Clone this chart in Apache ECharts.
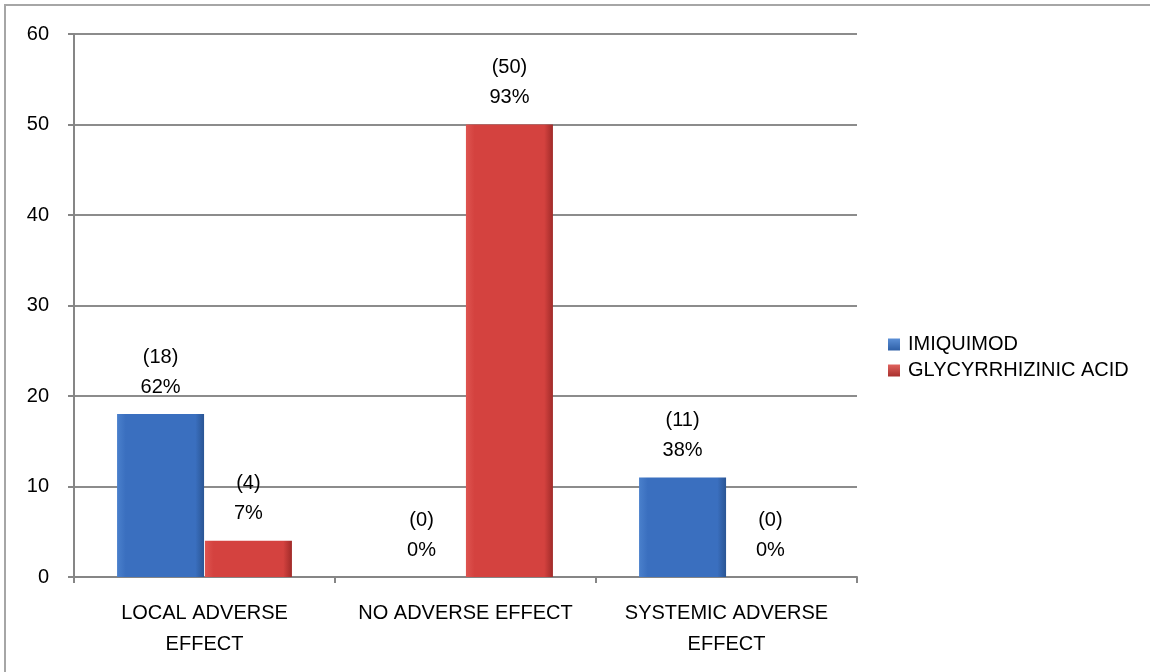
<!DOCTYPE html>
<html>
<head>
<meta charset="utf-8">
<script src="https://cdn.jsdelivr.net/npm/echarts@6/dist/echarts.min.js"></script>
<style>
  html, body { margin: 0; padding: 0; background: #fff; }
  #chart { width: 1150px; height: 672px; }
</style>
</head>
<body>
<div id="chart"></div>
<script>
// Adverse effects by treatment group
const categories = ['LOCAL ADVERSE\nEFFECT', 'NO ADVERSE EFFECT', 'SYSTEMIC ADVERSE\nEFFECT'];
const seriesNames = ['IMIQUIMOD', 'GLYCYRRHIZINIC ACID'];
const imiquimodCounts = [18, 0, 11];
const imiquimodPercents = [62, 0, 38];
const glycyrrhizinicCounts = [4, 50, 0];
const glycyrrhizinicPercents = [7, 93, 0];
const yTicks = [0, 10, 20, 30, 40, 50, 60];

const FONT = 'Liberation Sans';
const FONT_SIZE = 20;

function bevel(left, mid, right) {
  return new echarts.graphic.LinearGradient(0, 0, 1, 0, [
    { offset: 0, color: left },
    { offset: 0.1, color: mid },
    { offset: 0.9, color: mid },
    { offset: 1, color: right }
  ]);
}
function legendIcon(c1, c2) {
  return new echarts.graphic.LinearGradient(0, 0, 0, 1, [
    { offset: 0, color: c1 },
    { offset: 1, color: c2 }
  ]);
}

const blue = bevel('#4a80cc', '#3a6fbf', '#2a5594');
const red = bevel('#de5450', '#d4423f', '#a02b29');

function makeLabel(percents) {
  return {
    show: true,
    position: 'top',
    distance: 12,
    color: '#000',
    fontFamily: FONT,
    fontSize: FONT_SIZE,
    lineHeight: 30,
    formatter: p => '(' + p.value + ')\n' + percents[p.dataIndex] + '%'
  };
}

const chart = echarts.init(document.getElementById('chart'), null, { renderer: 'canvas' });
chart.setOption({
  animation: false,
  backgroundColor: '#fff',
  textStyle: { fontFamily: FONT },
  graphic: [{
    type: 'polyline',
    shape: { points: [[5, 672], [5, 5], [1150, 5]] },
    style: { stroke: '#a6a6a6', lineWidth: 2, fill: null },
    silent: true
  }],
  grid: { left: 74, right: 293, top: 34, bottom: 95 },
  legend: {
    orient: 'vertical',
    left: 883,
    top: 329,
    itemWidth: 12,
    itemHeight: 12,
    itemGap: 5,
    icon: 'rect',
    textStyle: { fontFamily: FONT, fontSize: FONT_SIZE, lineHeight: 21, color: '#000', padding: [0, 0, 0, 3] },
    data: [
      { name: seriesNames[0], itemStyle: { color: legendIcon('#5b8fd6', '#2e5fa6') } },
      { name: seriesNames[1], itemStyle: { color: legendIcon('#e0625e', '#a8302d') } }
    ]
  },
  xAxis: {
    type: 'category',
    data: categories,
    axisLine: { show: true, lineStyle: { color: '#868686', width: 2 } },
    axisTick: { show: true, alignWithLabel: false, length: 6, lineStyle: { color: '#868686', width: 2 } },
    axisLabel: { color: '#000', fontFamily: FONT, fontSize: FONT_SIZE, lineHeight: 31, margin: 21, interval: 0 }
  },
  yAxis: {
    type: 'value',
    min: 0,
    max: 60,
    interval: 10,
    axisLine: { show: true, lineStyle: { color: '#868686', width: 2 } },
    axisTick: { show: true, length: 6, inside: false, lineStyle: { color: '#868686', width: 2 } },
    axisLabel: {
      color: '#000', fontFamily: FONT, fontSize: FONT_SIZE, margin: 25,
      formatter: v => (yTicks.indexOf(v) >= 0 ? String(v) : '')
    },
    splitLine: { show: true, lineStyle: { color: '#8c8c8c', width: 2 } }
  },
  series: [
    {
      name: seriesNames[0],
      type: 'bar',
      data: imiquimodCounts,
      barGap: '1%',
      barCategoryGap: '33%',
      itemStyle: { color: blue },
      label: makeLabel(imiquimodPercents)
    },
    {
      name: seriesNames[1],
      type: 'bar',
      data: glycyrrhizinicCounts,
      barGap: '1%',
      barCategoryGap: '33%',
      itemStyle: { color: red },
      label: makeLabel(glycyrrhizinicPercents)
    }
  ]
});
</script>
</body>
</html>
